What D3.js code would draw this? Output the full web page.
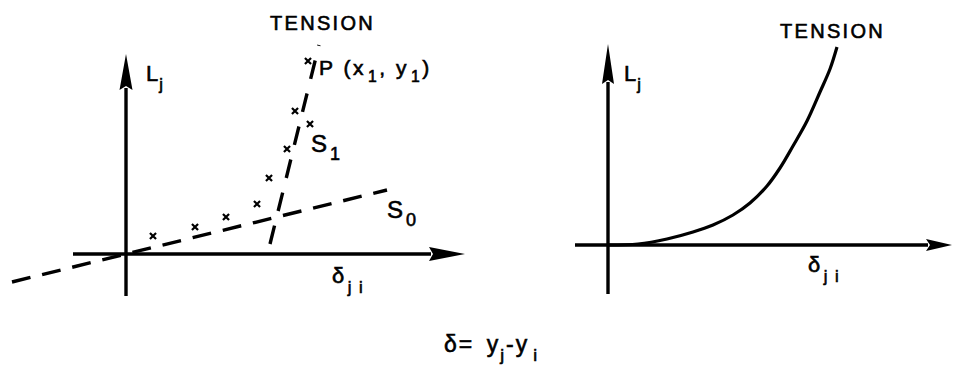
<!DOCTYPE html>
<html>
<head>
<meta charset="utf-8">
<script src="https://cdn.jsdelivr.net/npm/d3@7/dist/d3.min.js"></script>
<style>
  html, body { margin: 0; padding: 0; background: #fff; }
  svg { display: block; }
  text { font-family: "Liberation Sans", Arial, sans-serif; fill: #000; stroke: #000; stroke-width: 0.6px; }
</style>
</head>
<body>
<svg id="chart" width="957" height="377"></svg>
<script>
// Left panel: measured load/deflection points and the two secant lines
const measuredPoints = [
  [0.27, 0.18], [0.69, 0.27], [1.00, 0.37], [1.31, 0.50],
  [1.43, 0.76], [1.61, 1.05], [1.69, 1.43], [1.84, 1.30], [1.82, 1.93]
];
const lineS0 = [[-1.14, -0.28], [2.61, 0.64]];
const lineS1 = [[1.44, 0.10], [1.93, 2.09]];

// Right panel: tension curve L_j(δ_ji)
const tensionCurve = [
  [0.00, 0.00], [0.30, 0.01], [0.59, 0.06], [0.85, 0.13], [1.05, 0.20],
  [1.25, 0.30], [1.42, 0.42], [1.59, 0.59], [1.72, 0.77], [1.85, 0.99],
  [1.99, 1.24], [2.12, 1.53], [2.22, 1.76], [2.29, 1.98]
];

// Axis extents (data units) for each panel
const leftAxisX = [-0.53, 3.39];
const leftAxisY = [-0.42, 2.00];
const rightAxisX = [-0.33, 3.44];
const rightAxisY = [-0.49, 2.01];

const svg = d3.select("#chart");

// One data unit = 100 px in both panels
const xL = d3.scaleLinear().domain([0, 1]).range([126, 226]);
const yL = d3.scaleLinear().domain([0, 1]).range([254, 154]);
const xR = d3.scaleLinear().domain([0, 1]).range([608, 708]);
const yR = d3.scaleLinear().domain([0, 1]).range([245, 145]);

function drawAxes(g, x, y, ax, ay, hHead, vHead) {
  // horizontal axis
  g.append("line")
    .attr("x1", x(ax[0])).attr("x2", x(ax[1]) - hHead.len + 2)
    .attr("y1", y(0)).attr("y2", y(0))
    .attr("stroke", "#000").attr("stroke-width", 3.4);
  const hx = x(ax[1]), hy = y(0);
  g.append("path")
    .attr("d", `M${hx},${hy} L${hx - hHead.len},${hy - hHead.w} L${hx - hHead.len + 4},${hy} L${hx - hHead.len},${hy + hHead.w} Z`)
    .attr("fill", "#000");
  // vertical axis
  g.append("line")
    .attr("x1", x(0)).attr("x2", x(0))
    .attr("y1", y(ay[0])).attr("y2", y(ay[1]) + vHead.len - 2)
    .attr("stroke", "#000").attr("stroke-width", 3.4);
  const vx = x(0), vy = y(ay[1]);
  g.append("path")
    .attr("d", `M${vx},${vy} L${vx - vHead.w},${vy + vHead.len} L${vx},${vy + vHead.len - 4} L${vx + vHead.w},${vy + vHead.len} Z`)
    .attr("fill", "#000");
}

// ---------- Left panel ----------
const left = svg.append("g");
drawAxes(left, xL, yL, leftAxisX, leftAxisY, { len: 36, w: 7 }, { len: 36, w: 6.5 });

const lineL = d3.line().x(d => xL(d[0])).y(d => yL(d[1]));
left.append("path").datum(lineS0)
  .attr("d", lineL).attr("fill", "none")
  .attr("stroke", "#000").attr("stroke-width", 3.4)
  .attr("stroke-dasharray", "19 12");
left.append("path").datum(lineS1)
  .attr("d", lineL).attr("fill", "none")
  .attr("stroke", "#000").attr("stroke-width", 3.4)
  .attr("stroke-dasharray", "19 15");

left.selectAll("path.pt").data(measuredPoints).join("path")
  .attr("class", "pt")
  .attr("transform", d => `translate(${xL(d[0])},${yL(d[1])})`)
  .attr("d", d3.symbol(d3.symbolX, 26))
  .attr("fill", "none").attr("stroke", "#000").attr("stroke-width", 2.2);

// ---------- Right panel ----------
const right = svg.append("g");
drawAxes(right, xR, yR, rightAxisX, rightAxisY, { len: 26, w: 6 }, { len: 40, w: 6 });

right.append("path").datum(tensionCurve)
  .attr("d", d3.line().x(d => xR(d[0])).y(d => yR(d[1])).curve(d3.curveCatmullRom.alpha(0.5)))
  .attr("fill", "none").attr("stroke", "#000").attr("stroke-width", 3.2);

// ---------- Labels ----------
function label(x, y, size, parts, opts = {}) {
  const t = svg.append("text").attr("x", x).attr("y", y)
    .attr("font-size", size)
    .attr("letter-spacing", opts.spacing || 0);
  parts.forEach(p => {
    const ts = t.append("tspan").text(p.t);
    if (p.sub) ts.attr("font-size", size * 0.75).attr("dy", p.dy || 0);
    else if (p.dy) ts.attr("dy", p.dy);
    if (p.dx) ts.attr("dx", p.dx);
  });
  return t;
}

// Titles
label(270, 30, 20, [{ t: "TENSION" }], { spacing: 2.3 });
label(780, 38, 20, [{ t: "TENSION" }], { spacing: 2.3 });

// Vertical axis labels L_j
label(xL(0) + 20, yL(1.73), 22, [{ t: "L" }, { t: "j", sub: true, dy: 9, dx: 1 }]);
label(xR(0) + 16, yR(1.64), 22, [{ t: "L" }, { t: "j", sub: true, dy: 9, dx: 1 }]);

// Horizontal axis labels δ_ji
label(xL(2.06), yL(-0.29), 22, [{ t: "δ" }, { t: "j i", sub: true, dy: 10, dx: 2 }], { spacing: 1.5 });
label(xR(2.0), yR(-0.27), 22, [{ t: "δ" }, { t: "j i", sub: true, dy: 10, dx: 2 }], { spacing: 1.5 });

// Point and line labels in the left panel
label(xL(1.93), yL(1.79), 21, [
  { t: "P (x" }, { t: "1", sub: true, dy: 7, dx: 2 }, { t: ",  y", dy: -7 }, { t: "1", sub: true, dy: 7, dx: 2 }, { t: ")", dy: -7 }
], { spacing: 2.5 });
label(xL(1.85), yL(1.02), 24, [{ t: "S" }, { t: "1", sub: true, dy: 8, dx: 3 }]);
label(xL(2.61), yL(0.36), 24, [{ t: "S" }, { t: "0", sub: true, dy: 8, dx: 3 }]);

// Definition of δ
label(444, 352, 23, [
  { t: "δ= " }, { t: "y", dx: 4 }, { t: "j", sub: true, dy: 9 }, { t: "-y", dy: -9 }, { t: "i", sub: true, dy: 9, dx: 4 }
], { spacing: 2 });
</script>
</body>
</html>
